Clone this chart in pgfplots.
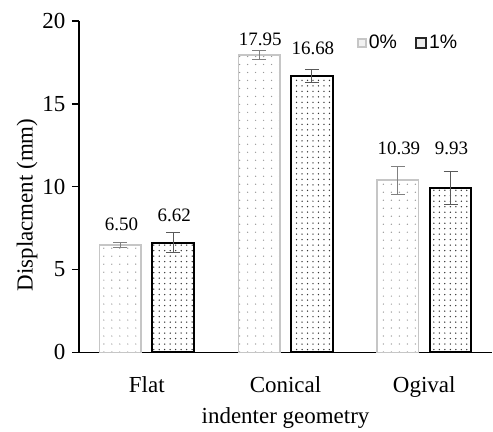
\documentclass[border=0pt]{standalone}
\usepackage{pgfplots}
\pgfplotsset{compat=1.18}
\usepackage{fontspec}
\setmainfont{Liberation Serif}
\newfontfamily\legfont{Liberation Sans}
\usetikzlibrary{patterns.meta}
\begin{document}
\begin{tikzpicture}[font=\fontsize{23}{27}\selectfont]
\begin{axis}[
  scale only axis, width=414pt, height=332pt,
  xmin=-0.49, xmax=2.49, ymin=0, ymax=20,
  ytick={0,5,10,15,20},
  xtick={0,1,2}, xticklabels={Flat,Conical,Ogival},
  xtick style={draw=none},
  ytick style={black, line width=1.6pt},
  tick align=outside, major tick length=7pt,
  axis x line*=bottom, axis y line*=left,
  axis line style={line width=1.6pt, -},
  /pgf/number format/assume math mode=true,
  yticklabel style={font=\fontsize{23}{27}\selectfont, xshift=-3pt},
  xticklabel style={font=\fontsize{23}{27}\selectfont, yshift=-14pt},
  xlabel={indenter geometry}, ylabel={Displacment (mm)},
  xlabel style={yshift=-3pt},
  ylabel style={at={(ticklabel cs:0.445)}, yshift=-2pt},
  ybar, bar width=0.30,
  legend columns=2,
  legend style={draw=none, fill=none, at={(rel axis cs:0.797,0.934)}, anchor=center,
    font=\legfont\fontsize{19.5}{23}\selectfont,
    /tikz/every even column/.append style={column sep=16pt}},
  clip=false,
]
\addplot[bar shift=-0.19, draw=gray!45, line width=1.6pt,
  pattern={Dots[distance=8pt,radius=0.7pt]}, pattern color=gray!80,
  legend image code/.code={\draw[gray!45, fill=gray!10, line width=1.5pt] (2pt,-4pt) rectangle (10pt,4pt);},
  error bars/.cd, y dir=both, y explicit,
  error bar style={gray, line width=1pt},
  error mark options={rotate=90, mark size=7pt, gray, line width=1pt}]
  coordinates {(0,6.50) +- (0,0.15) (1,17.95) +- (0,0.28) (2,10.39) +- (0,0.85)};
\addlegendentry{0\%}
\addplot[bar shift=0.19, draw=black, line width=2pt,
  pattern={Dots[distance=5.5pt,radius=0.75pt]}, pattern color=black!80,
  legend image code/.code={\draw[black!85, fill=gray!15, line width=2.2pt] (0pt,-5pt) rectangle (10pt,5pt);},
  error bars/.cd, y dir=both, y explicit,
  error bar style={gray!70!black, line width=1pt},
  error mark options={rotate=90, mark size=7pt, gray!70!black, line width=1pt}]
  coordinates {(0,6.62) +- (0,0.6) (1,16.68) +- (0,0.4) (2,9.93) +- (0,1.0)};
\addlegendentry{1\%}
\addplot[xbar=0pt, draw=none, fill=none, forget plot, bar width=0,
  nodes near coords, point meta=explicit symbolic,
  every node near coord/.append style={anchor=center, font=\fontsize{19}{23}\selectfont, black}]
  coordinates {(-0.19,7.7)[6.50] (0.19,8.3)[6.62] (0.81,18.9)[17.95] (1.19,18.37)[16.68] (1.81,12.3)[10.39] (2.19,12.3)[9.93]};
\coordinate (bl) at (rel axis cs:0,0);
\coordinate (tr) at (rel axis cs:1,1);
\end{axis}
\path ([xshift=-79pt,yshift=-73pt]bl) rectangle ([yshift=21pt]tr);
\end{tikzpicture}
\end{document}
